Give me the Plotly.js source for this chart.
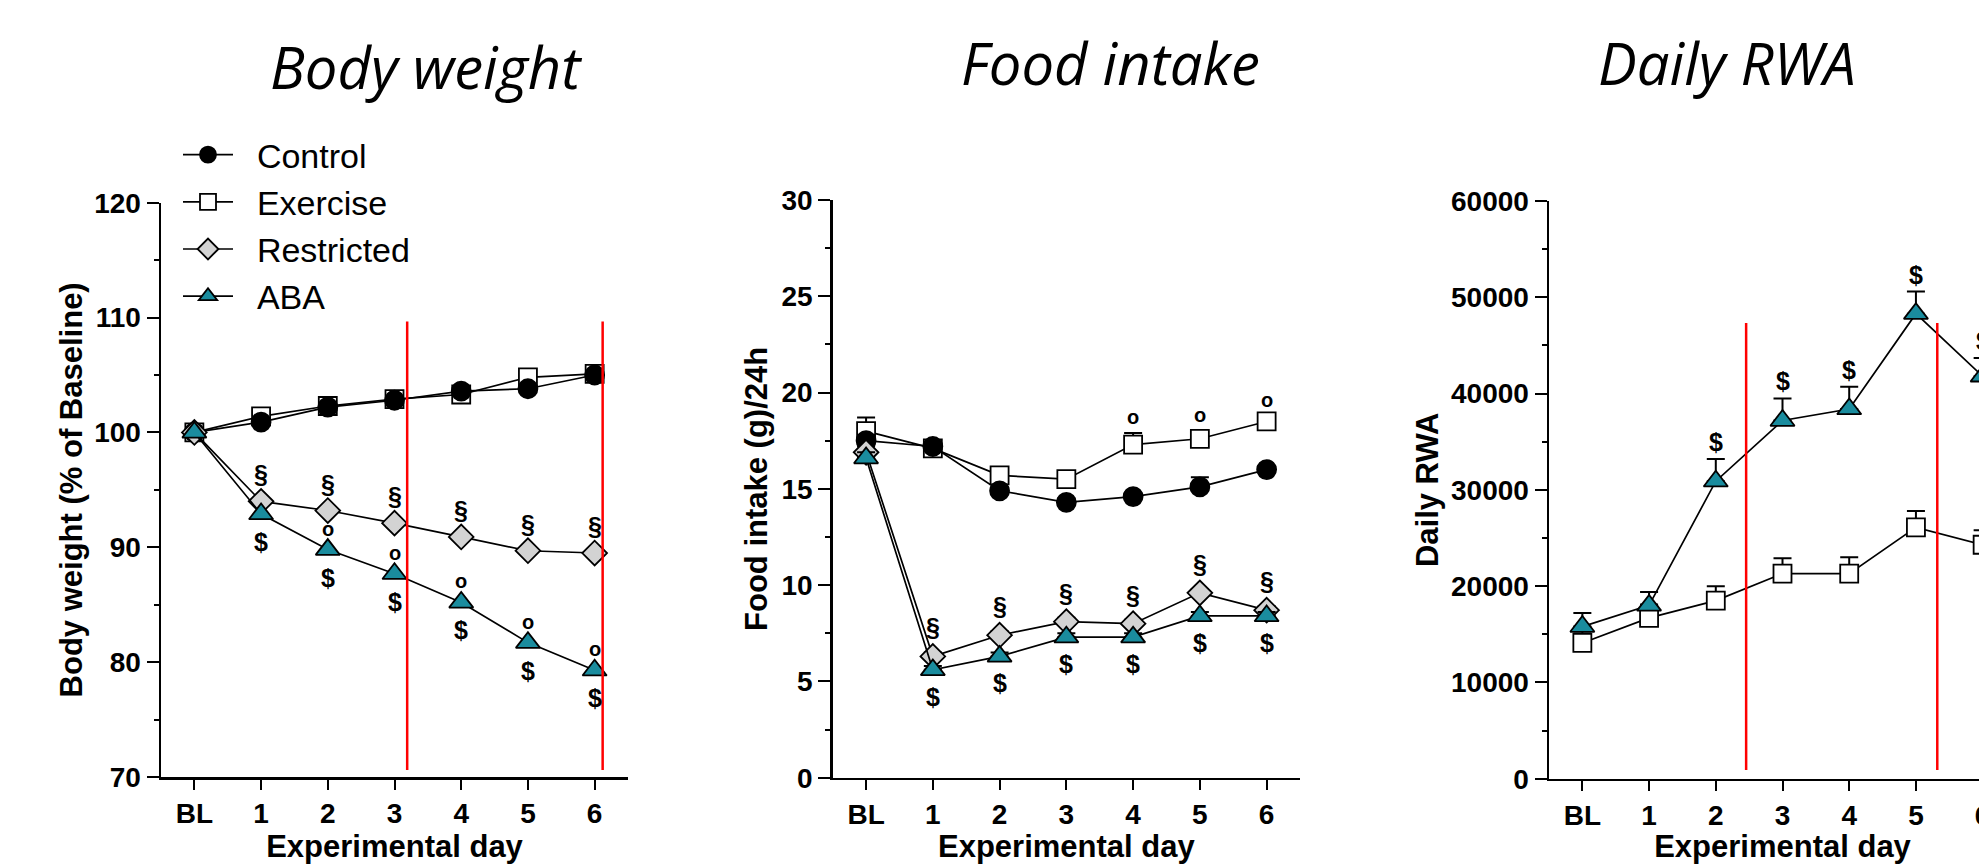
<!DOCTYPE html>
<html>
<head>
<meta charset="utf-8">
<script src="https://cdn.plot.ly/plotly-3.0.1.min.js"></script>
<style>
  html, body { margin: 0; padding: 0; overflow: hidden; background: #fff; }
  #chart { width: 2030px; height: 864px; }
</style>
</head>
<body>
<div id="chart"></div>
<script>
// ---------------- data ----------------
const days = ['BL', '1', '2', '3', '4', '5', '6'];
const groups = ['Control', 'Exercise', 'Restricted', 'ABA'];

// Body weight (% of baseline)
const bwControl    = [100, 100.9, 102.2, 102.8, 103.6, 103.8, 105.0];
const bwExercise   = [100, 101.4, 102.3, 102.9, 103.3, 104.8, 105.1];
const bwRestricted = [100, 94.0, 93.2, 92.1, 90.9, 89.7, 89.5];
const bwABA        = [100, 92.9, 89.8, 87.7, 85.2, 81.7, 79.3];

// Food intake (g/24h)
const fiControl       = [17.5, 17.2, 14.9, 14.3, 14.6, 15.1, 16.0];
const fiControlErr    = [0.3, 0.2, 0.2, 0.2, 0.2, 0.5, 0.2];
const fiExercise      = [18.0, 17.1, 15.7, 15.5, 17.3, 17.6, 18.5];
const fiExerciseErr   = [0.7, 0.2, 0.2, 0.2, 0.6, 0.4, 0.3];
const fiRestricted    = [16.9, 6.3, 7.4, 8.1, 8.0, 9.6, 8.7];
const fiRestrictedErr = [0.3, 0.2, 0.2, 0.2, 0.2, 0.2, 0.2];
const fiABA           = [16.6, 5.6, 6.3, 7.3, 7.3, 8.4, 8.4];
const fiABAErr        = [0.3, 0.2, 0.2, 0.2, 0.2, 0.2, 0.2];

// Daily running wheel activity
const rwaExercise    = [14100, 16700, 18500, 21300, 21300, 26100, 24300];
const rwaExerciseErr = [1200, 1400, 1500, 1600, 1700, 1700, 1500];
const rwaABA         = [15800, 18000, 30900, 37200, 38400, 48300, 41800];
const rwaABAErr      = [1400, 1400, 2300, 2300, 2300, 2300, 1900];

// significance marks (day indices)
const bwSectionDays = [1, 2, 3, 4, 5, 6];   // § restricted
const bwDollarDays  = [1, 2, 3, 4, 5, 6];   // $ ABA
const bwDegreeDays  = [2, 3, 4, 5, 6];      // o ABA
const fiSectionDays = [1, 2, 3, 4, 5, 6];   // § restricted
const fiDollarDays  = [1, 2, 3, 4, 5, 6];   // $ ABA
const fiDegreeDays  = [4, 5, 6];            // o exercise
const rwaDollarDays = [2, 3, 4, 5, 6];      // $ ABA

// phase boundaries (red lines), in day units
const bwPhaseLines  = [3.19, 6.12];
const rwaPhaseLines = [2.455, 5.32];

const panelTitles = ['Body weight', 'Food intake', 'Daily RWA'];
const yTitles = ['Body weight (% of Baseline)', 'Food intake (g)/24h', 'Daily RWA'];

// ---------------- styling ----------------
const W = 2030, H = 864;
const FONT = 'Liberation Sans, Arial, sans-serif';
const TEAL = '#1a8c9e';
const GRAY = '#d3d3d3';
const xIdx = days.map((d, i) => i);
const PAD = '\u00a0\u00a0';

const styles = {
  Control:    { symbol: 'circle',      color: '#000000', size: 19, rank: 1 },
  Exercise:   { symbol: 'square',      color: '#ffffff', size: 18, rank: 2 },
  Restricted: { symbol: 'diamond',     color: GRAY,      size: 19, rank: 3 },
  ABA:        { symbol: 'triangle-up', color: TEAL,      size: 21, rank: 4 }
};

function trace(name, y, err, xa, ya, showlegend) {
  const s = styles[name];
  const t = {
    type: 'scatter', mode: 'lines+markers', name: PAD + name,
    x: xIdx, y: y, xaxis: xa, yaxis: ya,
    legendrank: s.rank, showlegend: showlegend, cliponaxis: false,
    line: { color: '#000', width: 1.7 },
    marker: { symbol: s.symbol, size: s.size, color: s.color, line: { color: '#000', width: 1.8 } }
  };
  if (err) {
    t.error_y = { type: 'data', symmetric: false, array: err, arrayminus: err.map(() => 0),
                  color: '#000', thickness: 2, width: 9 };
  }
  return t;
}

const data = [
  trace('Exercise', bwExercise, null, 'x', 'y', true),
  trace('Control', bwControl, null, 'x', 'y', true),
  trace('Restricted', bwRestricted, null, 'x', 'y', true),
  trace('ABA', bwABA, null, 'x', 'y', true),

  trace('Exercise', fiExercise, fiExerciseErr, 'x2', 'y2', false),
  trace('Control', fiControl, fiControlErr, 'x2', 'y2', false),
  trace('Restricted', fiRestricted, fiRestrictedErr, 'x2', 'y2', false),
  trace('ABA', fiABA, fiABAErr, 'x2', 'y2', false),

  trace('Exercise', rwaExercise, rwaExerciseErr, 'x3', 'y3', false),
  trace('ABA', rwaABA, rwaABAErr, 'x3', 'y3', false)
];

// ---------------- annotations ----------------
const annotations = [];
function marks(dayList, values, text, xa, ya, yshift, size) {
  dayList.forEach(d => {
    annotations.push({
      x: d, y: values[d], xref: xa, yref: ya, text: text, showarrow: false,
      yshift: yshift, xanchor: 'center', yanchor: 'middle',
      font: { family: FONT, size: size, color: '#000', weight: 'bold' }
    });
  });
}
marks(bwSectionDays, bwRestricted, '§', 'x', 'y', 27, 25);
marks(bwDollarDays, bwABA, '$', 'x', 'y', -28, 25);
marks(bwDegreeDays, bwABA, 'o', 'x', 'y', 21, 20);

marks(fiSectionDays, fiRestricted, '§', 'x2', 'y2', 29, 25);
marks(fiDollarDays, fiABA, '$', 'x2', 'y2', -27, 25);
marks(fiDegreeDays, fiExercise.map((v, i) => v + fiExerciseErr[i]), 'o', 'x2', 'y2', 16, 20);

marks(rwaDollarDays, rwaABA.map((v, i) => v + rwaABAErr[i]), '$', 'x3', 'y3', 17, 25);

// panel titles
const titleX = [426, 1110, 1727];
const titleY = [67, 62, 62];
panelTitles.forEach((t, i) => {
  annotations.push({
    text: t, xref: 'paper', yref: 'paper', x: titleX[i] / W, y: 1 - titleY[i] / H,
    xanchor: 'center', yanchor: 'middle', showarrow: false,
    font: { family: 'Open Sans, sans-serif', size: 58, style: 'italic', color: '#000' }
  });
});

// ---------------- shapes ----------------
const shapes = [];
function phaseLines(xs, xa, ya, y0, y1) {
  xs.forEach(x => shapes.push({
    type: 'line', xref: xa, yref: ya + ' domain', x0: x, x1: x, y0: y0, y1: y1,
    line: { color: '#ff0000', width: 2.5 }, layer: 'above'
  }));
}
phaseLines(bwPhaseLines, 'x', 'y', 0.012, 0.793);
phaseLines(rwaPhaseLines, 'x3', 'y3', 0.015, 0.789);

// ---------------- axes ----------------
function xAxis(dom, anchor) {
  return {
    domain: dom, anchor: anchor, range: [-0.5, 6.5],
    tickvals: xIdx, ticktext: days,
    showline: true, linewidth: 2.5, linecolor: '#000',
    ticks: 'outside', ticklen: 10, tickwidth: 2, tickcolor: '#000',
    showgrid: false, zeroline: false,
    tickfont: { family: FONT, size: 28, color: '#000', weight: 'bold' },
    title: { text: 'Experimental day', standoff: 0,
             font: { family: FONT, size: 31, color: '#000', weight: 'bold' } }
  };
}
function yAxis(dom, anchor, range, dtick, title, standoff, fmt) {
  return {
    domain: dom, anchor: anchor, range: range, dtick: dtick, tick0: 0,
    tickformat: fmt || '',
    showline: true, linewidth: 2.5, linecolor: '#000',
    ticks: 'outside', ticklen: 12, tickwidth: 2, tickcolor: '#000',
    minor: { ticks: 'outside', ticklen: 5, tickwidth: 2, tickcolor: '#000', dtick: dtick / 2, showgrid: false },
    showgrid: false, zeroline: false,
    tickfont: { family: FONT, size: 28, color: '#000', weight: 'bold' },
    title: { text: title, standoff: standoff,
             font: { family: FONT, size: 31, color: '#000', weight: 'bold' } }
  };
}

const layout = {
  width: W, height: H,
  margin: { l: 0, r: 0, t: 0, b: 0 },
  paper_bgcolor: '#fff', plot_bgcolor: 'rgba(0,0,0,0)',
  showlegend: true,
  legend: {
    x: 178 / W, y: 1 - 126 / H, xanchor: 'left', yanchor: 'top',
    bgcolor: 'rgba(0,0,0,0)', borderwidth: 0,
    font: { family: FONT, size: 34, color: '#000' },
    itemwidth: 50, traceorder: 'normal'
  },
  xaxis:  xAxis([161 / W, 628 / W], 'y'),
  yaxis:  yAxis([1 - 777 / H, 1 - 202.7 / H], 'x', [70, 120], 10, yTitles[0], 3),
  xaxis2: xAxis([832.7 / W, 1300 / W], 'y2'),
  yaxis2: yAxis([1 - 777.7 / H, 1 - 200 / H], 'x2', [0, 30], 5, yTitles[1], 5),
  xaxis3: xAxis([1549 / W, 2016 / W], 'y3'),
  yaxis3: yAxis([1 - 778.7 / H, 1 - 201 / H], 'x3', [0, 60000], 10000, yTitles[2], 3, 'd'),
  annotations: annotations,
  shapes: shapes
};

Plotly.newPlot('chart', data, layout, { displayModeBar: false, staticPlot: true });
</script>
</body>
</html>
